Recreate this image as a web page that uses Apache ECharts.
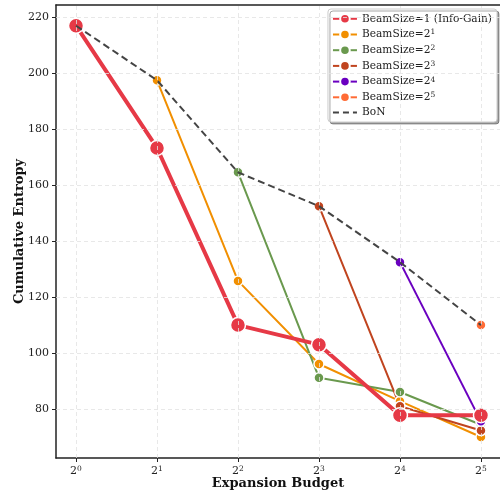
<!DOCTYPE html>
<html><head><meta charset="utf-8">
<script src="https://cdn.jsdelivr.net/npm/echarts@6/dist/echarts.min.js"></script>
<style>html,body{margin:0;padding:0;background:#fff}#c{width:500px;height:492px}</style>
</head><body><div id="c"></div>
<script>
var budgetExp = [0, 1, 2, 3, 4, 5];
var yTicks = [80, 100, 120, 140, 160, 180, 200, 220];
var infoGain = [217, 173.3, 110, 103, 77.8, 77.8];
var beam2 = [null, 197.5, 125.8, 96.1, 82.8, 70];
var beam4 = [null, null, 164.6, 91.2, 86.1, 74.4];
var beam8 = [null, null, null, 152.5, 81, 72.3];
var beam16 = [null, null, null, null, 132.5, 75.6];
var beam32 = [null, null, null, null, null, 110];
var bon = [217, 197.5, 164.6, 152.5, 132.5, 110];
var seriesNames = ['BeamSize=1 (Info-Gain)', 'BeamSize=2^1', 'BeamSize=2^2', 'BeamSize=2^3', 'BeamSize=2^4', 'BeamSize=2^5', 'BoN'];
var colors = ['#e63946', '#f18f01', '#6a994e', '#c0441f', '#6a00c0', '#ff6b35', '#444444'];

function pts(arr) {
  var out = [];
  for (var i = 0; i < arr.length; i++) if (arr[i] !== null) out.push([budgetExp[i], arr[i]]);
  return out;
}
function supText(s) {
  var k = s.indexOf('^');
  if (k < 0) return '{n|' + s + '}';
  return '{n|' + s.slice(0, k) + '}{s|' + s.slice(k + 1) + '}';
}
var font = 'DejaVu Serif';
function mk(idx, arr, width, size, z) {
  return {
    name: seriesNames[idx], type: 'line', data: pts(arr), z: z,
    symbol: 'circle', symbolSize: size,
    lineStyle: { color: colors[idx], width: width },
    itemStyle: { color: colors[idx], borderColor: '#fff', borderWidth: 1.5 },
    emphasis: { disabled: true }, animation: false
  };
}
var gridStyle = { color: '#e2e2e2', type: [4, 3], width: 0.8 };
var gridLines = {
  name: '_grid', type: 'line', data: [], z: 1, silent: true, symbol: 'none',
  markLine: {
    silent: true, symbol: 'none', animation: false, label: { show: false },
    lineStyle: gridStyle,
    data: budgetExp.map(function (v) { return { xAxis: v }; })
      .concat(yTicks.map(function (v) { return { yAxis: v }; }))
  }
};
var series = [
  gridLines,
  mk(1, beam2, 2, 10, 3),
  mk(2, beam4, 2, 10, 3),
  mk(3, beam8, 2, 10, 3),
  mk(4, beam16, 2, 10, 3),
  mk(5, beam32, 2, 10, 3),
  mk(0, infoGain, 4, 15, 4),
  {
    name: seriesNames[6], type: 'line', data: pts(bon), z: 5, symbol: 'none',
    lineStyle: { color: colors[6], width: 2, type: [7, 4] },
    itemStyle: { color: colors[6] }, animation: false
  }
];
var legendData = seriesNames.map(function (n) {
  if (n === 'BoN') return { name: n, itemStyle: { color: 'rgba(0,0,0,0)', borderWidth: 0 }, lineStyle: { color: colors[6], width: 2, type: [6, 4] } };
  return { name: n };
});
var chart = echarts.init(document.getElementById('c'), null, { renderer: 'canvas' });
chart.setOption({
  animation: false,
  backgroundColor: '#fff',
  textStyle: { fontFamily: font },
  grid: { left: 56, top: 5, right: 0, bottom: 34, outerBoundsMode: 'none', containLabel: false },
  legend: {
    data: legendData, orient: 'vertical', right: 3, top: 9,
    itemWidth: 24, itemHeight: 12, itemGap: 3.9,
    backgroundColor: '#fff', borderColor: '#cccccc', borderWidth: 1, borderRadius: 3,
    padding: [4, 5, 4, 4],
    shadowColor: 'rgba(0,0,0,0.35)', shadowBlur: 0, shadowOffsetX: 2, shadowOffsetY: 2,
    formatter: function (n) { return supText(n); },
    textStyle: { fontFamily: font, fontSize: 10.6, color: '#222',
      rich: { n: { fontFamily: font, fontSize: 10.6, color: '#222' },
              s: { fontFamily: font, fontSize: 7.5, color: '#222', verticalAlign: 'top', padding: [0, 0, 4, 0] } } }
  },
  xAxis: [{
    type: 'value', min: -0.247, max: 5.235,
    name: 'Expansion Budget', nameLocation: 'middle', nameGap: 19, nameMoveOverlap: false,
    nameTextStyle: { fontFamily: font, fontWeight: 'bold', fontSize: 13, color: '#111' },
    axisLine: { onZero: false, lineStyle: { color: '#222', width: 1.5 } },
    axisTick: { show: true, length: 4, customValues: budgetExp, lineStyle: { color: '#222' } },
    axisLabel: { customValues: budgetExp, fontFamily: font, fontSize: 11, color: '#222', margin: 7,
      formatter: function (v) { return '{n|2}{s|' + v + '}'; },
      rich: { n: { fontFamily: font, fontSize: 11, color: '#222' },
              s: { fontFamily: font, fontSize: 7.5, color: '#222', verticalAlign: 'top', padding: [0, 0, 4, 0] } } },
    splitLine: { show: false }
  }, {
    type: 'value', position: 'top', min: -0.247, max: 5.235,
    axisLine: { show: true, onZero: false, lineStyle: { color: '#222', width: 1.5 } },
    axisTick: { show: false }, axisLabel: { show: false }, splitLine: { show: false }
  }],
  yAxis: {
    type: 'value', min: 62.5, max: 224.4,
    name: 'Cumulative Entropy', nameLocation: 'middle', nameGap: 30, nameMoveOverlap: false,
    nameTextStyle: { fontFamily: font, fontWeight: 'bold', fontSize: 13, color: '#111' },
    axisLine: { show: true, onZero: false, lineStyle: { color: '#222', width: 1.5 } },
    axisTick: { show: true, length: 4, customValues: yTicks, lineStyle: { color: '#222' } },
    axisLabel: { customValues: yTicks, fontFamily: font, fontSize: 11, color: '#222', margin: 7 },
    splitLine: { show: false }
  },
  series: series
});
</script></body></html>
